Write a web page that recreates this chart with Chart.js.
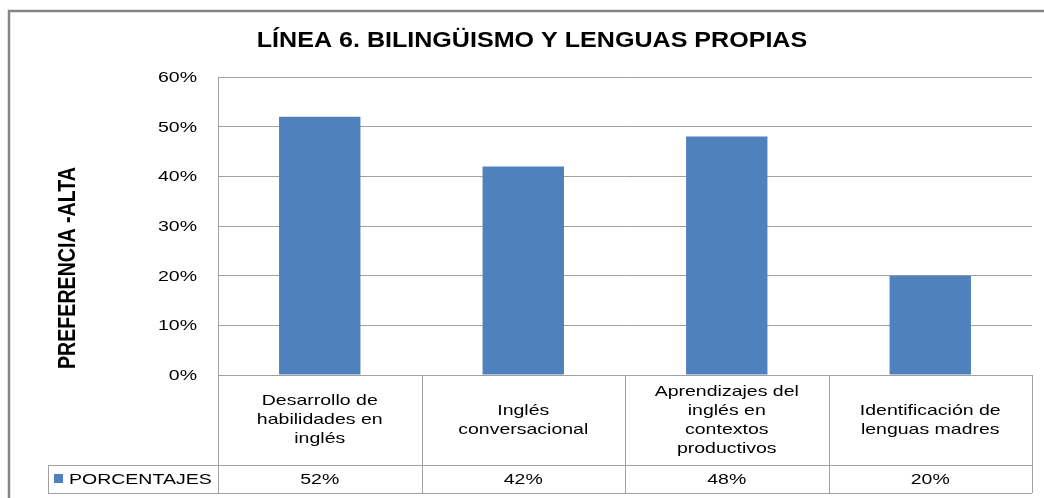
<!DOCTYPE html>
<html>
<head>
<meta charset="utf-8">
<script src="https://cdn.jsdelivr.net/npm/chart.js@4"></script>
<style>
  html, body { margin: 0; padding: 0; background: #ffffff; }
  #wrap { width: 1044px; height: 498px; position: relative; }
</style>
</head>
<body>
<div id="wrap"><canvas id="myChart"></canvas></div>
<script>
//////// Data ///////////////////
const categories = [
  ["Desarrollo de", "habilidades en", "inglés"],
  ["Inglés", "conversacional"],
  ["Aprendizajes del", "inglés en", "contextos", "productivos"],
  ["Identificación de", "lenguas madres"],
];
const seriesName = "PORCENTAJES";
const porcentajes = [52, 42, 48, 20];
const yTicks = [0, 10, 20, 30, 40, 50, 60];

const titleText = "LÍNEA 6. BILINGÜISMO Y LENGUAS PROPIAS";
const yTitleText = "PREFERENCIA -ALTA";

const barColor = "#4F81BD";
const lineColor = "#A0A0A0";
const font = "'Liberation Sans', Arial, sans-serif";
const stretch = 1.3; // the original picture is stretched sideways

// draw text squeezed/stretched along x
const wideText = function (c, text, x, y, sx, sy = 1) {
  c.save();
  c.translate(x, y);
  c.scale(sx, sy);
  c.fillText(text, 0, 0);
  c.restore();
};

//////// Frame, titles, ticks and data table ////////
const tablePlugin = {
  id: "tablePlugin",
  beforeDraw(chart) {
    const c = chart.ctx;
    c.save();
    c.fillStyle = "#ffffff";
    c.fillRect(0, 0, chart.width, chart.height);
    c.restore();
  },
  afterDraw(chart) {
    const c = chart.ctx;
    const x = chart.scales.x;
    const y = chart.scales.y;
    const area = chart.chartArea;
    const n = categories.length;
    const step = (x.right - x.left) / n;
    const rowTop = area.bottom;
    const rowMid = 465;
    const rowBot = 493;
    const legendLeft = 48;

    c.save();
    // outer frame
    c.strokeStyle = "#868686";
    c.lineWidth = 2.5;
    c.strokeRect(9, 11, 1100, 600);

    // title
    c.fillStyle = "#000";
    c.textAlign = "center";
    c.textBaseline = "middle";
    c.font = "bold 22px " + font;
    wideText(c, titleText, 532, 41, 1.14);

    // y axis title
    c.save();
    c.translate(69, 268);
    c.rotate(-Math.PI / 2);
    c.font = "bold 18px " + font;
    wideText(c, yTitleText, 0, 0, 1.09, stretch);
    c.restore();

    // y tick labels
    c.font = "15px " + font;
    c.textAlign = "right";
    yTicks.forEach((v) => {
      wideText(c, v + "%", 197, y.getPixelForValue(v) + 1, stretch);
    });

    // table lines
    c.strokeStyle = lineColor;
    c.lineWidth = 1;
    c.beginPath();
    c.moveTo(area.left, rowTop + 0.5);
    c.lineTo(x.right, rowTop + 0.5);
    c.moveTo(legendLeft, rowMid + 0.5);
    c.lineTo(x.right, rowMid + 0.5);
    c.moveTo(legendLeft, rowBot + 0.5);
    c.lineTo(x.right, rowBot + 0.5);
    c.moveTo(legendLeft + 0.5, rowMid);
    c.lineTo(legendLeft + 0.5, rowBot);
    for (let i = 0; i <= n; i++) {
      const px = Math.round(x.left + i * step) + 0.5;
      c.moveTo(px, rowTop);
      c.lineTo(px, rowBot);
    }
    c.stroke();

    // category labels and values
    c.textAlign = "center";
    c.fillStyle = "#000";
    const lh = 19;
    categories.forEach((lines, i) => {
      const cx = x.getPixelForValue(i);
      const cy = (rowTop + rowMid) / 2;
      const start = cy - ((lines.length - 1) * lh) / 2;
      lines.forEach((t, j) => wideText(c, t, cx, start + j * lh, stretch));
      wideText(c, porcentajes[i] + "%", cx, (rowMid + rowBot) / 2 + 1, stretch);
    });

    // legend key
    c.fillStyle = barColor;
    c.fillRect(54, 474, 9, 9);
    c.fillStyle = "#000";
    c.textAlign = "left";
    wideText(c, seriesName, 69, (rowMid + rowBot) / 2 + 1, stretch);
    c.restore();
  },
};

const ctx = document.getElementById("myChart");
const myChart = new Chart(ctx, {
  type: "bar",
  data: {
    labels: categories,
    datasets: [
      {
        label: seriesName,
        data: porcentajes,
        backgroundColor: barColor,
        borderWidth: 0,
        barPercentage: 0.4,
        categoryPercentage: 1,
      },
    ],
  },
  options: {
    responsive: true,
    maintainAspectRatio: false,
    animation: false,
    layout: {
      padding: { left: 0, right: 12, top: 77, bottom: 123 },
    },
    scales: {
      x: {
        display: false,
      },
      y: {
        min: 0,
        max: 60,
        afterFit(scale) {
          scale.width = 218;
        },
        afterBuildTicks(scale) {
          scale.ticks = yTicks.map((v) => ({ value: v }));
        },
        border: { display: true, color: lineColor, width: 1 },
        grid: { color: lineColor, drawTicks: false },
        ticks: { display: false },
      },
    },
    plugins: {
      legend: { display: false },
      title: { display: false },
      tooltip: { enabled: false },
    },
  },
  plugins: [tablePlugin],
});
</script>
</body>
</html>
